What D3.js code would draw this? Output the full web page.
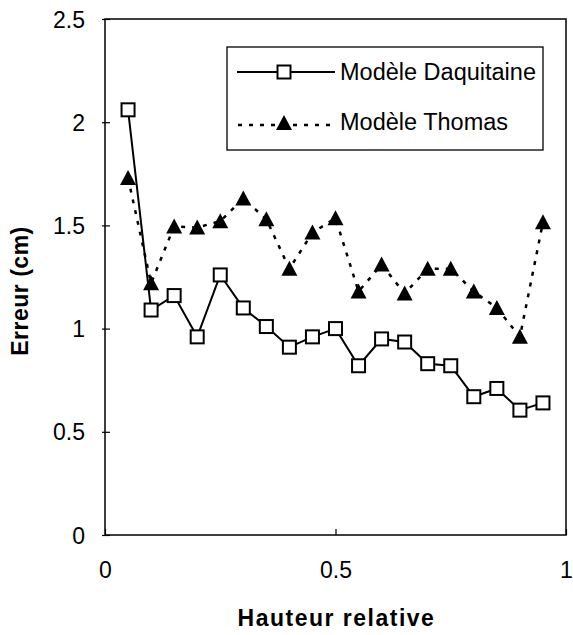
<!DOCTYPE html>
<html>
<head>
<meta charset="utf-8">
<script src="https://cdn.jsdelivr.net/npm/d3@7"></script>
<style>
  html, body { margin: 0; padding: 0; background: #fff; }
  svg { display: block; }
  text { font-family: "Liberation Sans", Arial, Helvetica, sans-serif; fill: #000; }
</style>
</head>
<body>
<svg id="chart" width="573" height="635"></svg>
<script>
const hauteur = [0.05, 0.10, 0.15, 0.20, 0.25, 0.30, 0.35, 0.40, 0.45, 0.50, 0.55, 0.60, 0.65, 0.70, 0.75, 0.80, 0.85, 0.90, 0.95];
const daquitaine = [2.06, 1.09, 1.16, 0.96, 1.26, 1.10, 1.01, 0.91, 0.96, 1.00, 0.82, 0.95, 0.935, 0.83, 0.82, 0.67, 0.71, 0.605, 0.64];
const thomas = [1.73, 1.22, 1.495, 1.49, 1.52, 1.63, 1.53, 1.29, 1.465, 1.535, 1.18, 1.31, 1.17, 1.29, 1.29, 1.18, 1.10, 0.96, 1.515];
const seriesNames = ["Modèle Daquitaine", "Modèle Thomas"];
const xTicks = [0, 0.5, 1];
const xTickLabels = ["0", "0.5", "1"];
const yTicks = [0, 0.5, 1, 1.5, 2, 2.5];
const yTickLabels = ["0", "0.5", "1", "1.5", "2", "2.5"];
const xTitle = "Hauteur relative";
const yTitle = "Erreur (cm)";

const svg = d3.select("#chart");
const L = 105, R = 566, T = 19, B = 535;
const x = d3.scaleLinear().domain([0, 1]).range([L, R]);
const y = d3.scaleLinear().domain([0, 2.5]).range([B, T]);

// Y axis
const yAxis = svg.append("g").attr("transform", `translate(${L},0)`)
  .call(d3.axisLeft(y).tickValues(yTicks).tickFormat((d, i) => yTickLabels[i]).tickSizeOuter(0));
yAxis.select(".domain").remove();
yAxis.selectAll(".tick line").attr("x1", -3).attr("x2", 5).attr("stroke", "#000").attr("stroke-width", 1.2);
yAxis.selectAll(".tick text").attr("x", -20).attr("dy", "0.35em").style("font-size", "23px").attr("fill", "#000");

// X axis
const xAxis = svg.append("g").attr("transform", `translate(0,${B})`)
  .call(d3.axisBottom(x).tickValues(xTicks).tickFormat((d, i) => xTickLabels[i]).tickSizeOuter(0));
xAxis.select(".domain").remove();
xAxis.selectAll(".tick line").attr("y1", 0).attr("y2", -6).attr("stroke", "#000").attr("stroke-width", 1.2);
xAxis.selectAll(".tick text").attr("y", 43).attr("dy", 0).style("font-size", "23px").attr("fill", "#000");

// Frame
svg.append("rect").attr("x", L).attr("y", T).attr("width", R - L).attr("height", B - T)
  .attr("fill", "none").attr("stroke", "#000").attr("stroke-width", 1.5);

// Titles
svg.append("text").attr("x", (L + R) / 2 + 1).attr("y", 626).attr("text-anchor", "middle")
  .style("font-size", "23px").style("font-weight", "bold").style("letter-spacing", "1.5px").text(xTitle);
svg.append("text").attr("transform", "translate(28,291) rotate(-90)").attr("text-anchor", "middle")
  .style("font-size", "23px").style("font-weight", "bold").style("letter-spacing", "0.5px").text(yTitle);

const line = d3.line().x(d => x(d[0])).y(d => y(d[1]));
const dataD = hauteur.map((h, i) => [h, daquitaine[i]]);
const dataT = hauteur.map((h, i) => [h, thomas[i]]);

const triPath = "M0,-8 L8,7 L-8,7 Z";

// Thomas series (dotted)
svg.append("path").datum(dataT).attr("d", line).attr("fill", "none")
  .attr("stroke", "#000").attr("stroke-width", 2.5).attr("stroke-dasharray", "4,7");
svg.selectAll(".tri").data(dataT).enter().append("path").attr("class", "tri")
  .attr("transform", d => `translate(${x(d[0])},${y(d[1])})`).attr("d", triPath).attr("fill", "#000");

// Daquitaine series (solid with squares)
svg.append("path").datum(dataD).attr("d", line).attr("fill", "none")
  .attr("stroke", "#000").attr("stroke-width", 2);
svg.selectAll(".sq").data(dataD).enter().append("rect").attr("class", "sq")
  .attr("x", d => x(d[0]) - 6.5).attr("y", d => y(d[1]) - 6.5).attr("width", 13).attr("height", 13)
  .attr("fill", "#fff").attr("stroke", "#000").attr("stroke-width", 2);

// Legend
const lg = svg.append("g");
lg.append("rect").attr("x", 227).attr("y", 47).attr("width", 316).attr("height", 103)
  .attr("fill", "#fff").attr("stroke", "#000").attr("stroke-width", 1.3);
lg.append("line").attr("x1", 237).attr("x2", 335).attr("y1", 72).attr("y2", 72)
  .attr("stroke", "#000").attr("stroke-width", 2);
lg.append("rect").attr("x", 284 - 6.5).attr("y", 72 - 6.5).attr("width", 13).attr("height", 13)
  .attr("fill", "#fff").attr("stroke", "#000").attr("stroke-width", 2);
lg.append("text").attr("x", 340).attr("y", 80).style("font-size", "23.5px").text(seriesNames[0]);
lg.append("line").attr("x1", 238).attr("x2", 335).attr("y1", 125).attr("y2", 125)
  .attr("stroke", "#000").attr("stroke-width", 2.5).attr("stroke-dasharray", "4,7");
lg.append("path").attr("transform", "translate(284,123)").attr("d", triPath).attr("fill", "#000");
lg.append("text").attr("x", 340).attr("y", 130).style("font-size", "23.5px").text(seriesNames[1]);
</script>
</body>
</html>
